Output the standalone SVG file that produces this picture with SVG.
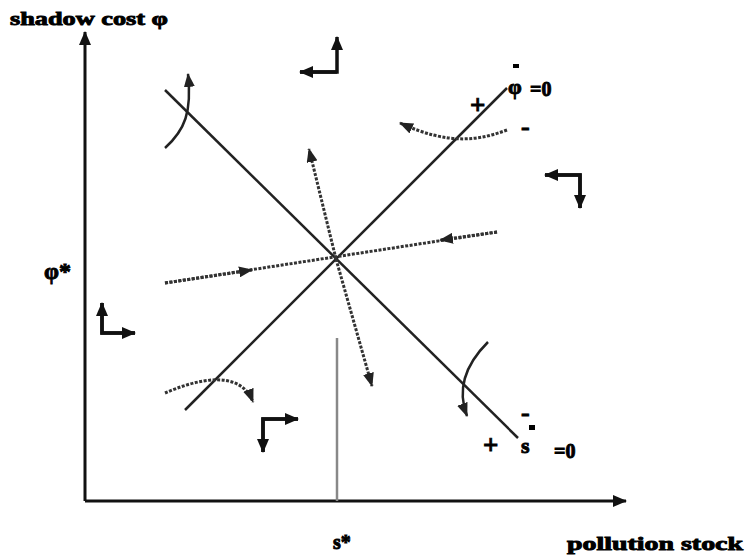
<svg xmlns="http://www.w3.org/2000/svg" width="746" height="557" viewBox="0 0 746 557">
<defs>
<marker id="ah" markerWidth="14" markerHeight="12" refX="13" refY="6" orient="auto" markerUnits="userSpaceOnUse"><path d="M0,0 L14,6 L0,12 z" fill="#111"/></marker>
<marker id="as" markerWidth="14" markerHeight="11" refX="13" refY="5.5" orient="auto" markerUnits="userSpaceOnUse"><path d="M0,0 L14,5.5 L0,11 z" fill="#222"/></marker>
<style>
.ax{stroke:#111;stroke-width:3;fill:none}
.ln{stroke:#222;stroke-width:2.5;fill:none}
.dot{stroke:#333;stroke-width:3;stroke-dasharray:3 1.5;fill:none}
.cv{stroke:#222;stroke-width:2.5;fill:none}
.dir{stroke:#111;stroke-width:3.5;fill:none}
.t{font-family:"Liberation Serif",serif;font-weight:bold;fill:#000;stroke:#000;stroke-width:0.9}
</style>
</defs>
<g id="axes">
<line class="ax" x1="85" y1="501" x2="85" y2="32" marker-end="url(#ah)"/>
<line class="ax" x1="85" y1="501" x2="626" y2="501" marker-end="url(#ah)"/>
<line x1="337" y1="338" x2="337" y2="501" stroke="#888" stroke-width="2.5"/>
</g>
<g id="labels">
<text class="t" x="10" y="25" font-size="19" textLength="158" lengthAdjust="spacingAndGlyphs">shadow cost φ</text>
<text class="t" x="567" y="550" font-size="19" textLength="176" lengthAdjust="spacingAndGlyphs">pollution stock</text>
<text class="t" x="44" y="279" font-size="24">φ*</text>
<text class="t" x="333" y="549" font-size="20">s*</text>
<text class="t" x="470" y="114" font-size="27">+</text>
<text class="t" x="521" y="135" font-size="26">-</text>
<text class="t" x="508" y="94" font-size="22">φ</text>
<rect x="513" y="64" width="6" height="4" fill="#000"/>
<text class="t" x="530" y="96" font-size="20">=0</text>
<text class="t" x="483" y="454" font-size="27">+</text>
<text class="t" x="521" y="421" font-size="26">-</text>
<rect x="529" y="425" width="6" height="5" fill="#000"/>
<text class="t" x="521" y="453" font-size="22">s</text>
<text class="t" x="554" y="458" font-size="20">=0</text>
</g>
<g id="connectors">
<line class="ln" x1="165" y1="90" x2="518" y2="438"/>
<line class="ln" x1="185" y1="410" x2="507" y2="88"/>
<line class="dot" x1="165" y1="283" x2="497" y2="232"/>
<line class="dot" x1="165" y1="283" x2="252" y2="270" marker-end="url(#as)"/>
<line class="dot" x1="497" y1="232" x2="440" y2="240" marker-end="url(#as)"/>
<line class="dot" x1="336" y1="259" x2="309" y2="149" marker-end="url(#as)"/>
<line class="dot" x1="336" y1="259" x2="372" y2="386" marker-end="url(#as)"/>
<path class="cv" d="M165,148 C185,130 192,112 188,74" marker-end="url(#as)"/>
<path class="dot" d="M507,130 C480,140 450,146 400,123" marker-end="url(#as)"/>
<path class="dot" d="M165,393 C195,380 240,368 253,402" marker-end="url(#as)"/>
<path class="cv" d="M488,342 C470,360 455,385 467,416" marker-end="url(#as)"/>
</g>
<g id="dir-top">
<path class="dir" d="M300,72 L337,72 L337,37" marker-end="url(#ah)"/>
<path class="dir" d="M337,72 L300,72" marker-end="url(#ah)"/>
</g>
<g id="dir-right">
<path class="dir" d="M580,208 L580,175 L545,175" marker-end="url(#ah)"/>
<path class="dir" d="M545,175 L580,175 L580,208" marker-end="url(#ah)"/>
</g>
<g id="dir-left">
<path class="dir" d="M135,333 L102,333 L102,303" marker-end="url(#ah)"/>
<path class="dir" d="M102,303 L102,333 L135,333" marker-end="url(#ah)"/>
</g>
<g id="dir-bottom">
<path class="dir" d="M263,452 L263,419 L298,419" marker-end="url(#ah)"/>
<path class="dir" d="M298,419 L263,419 L263,452" marker-end="url(#ah)"/>
</g>
</svg>
